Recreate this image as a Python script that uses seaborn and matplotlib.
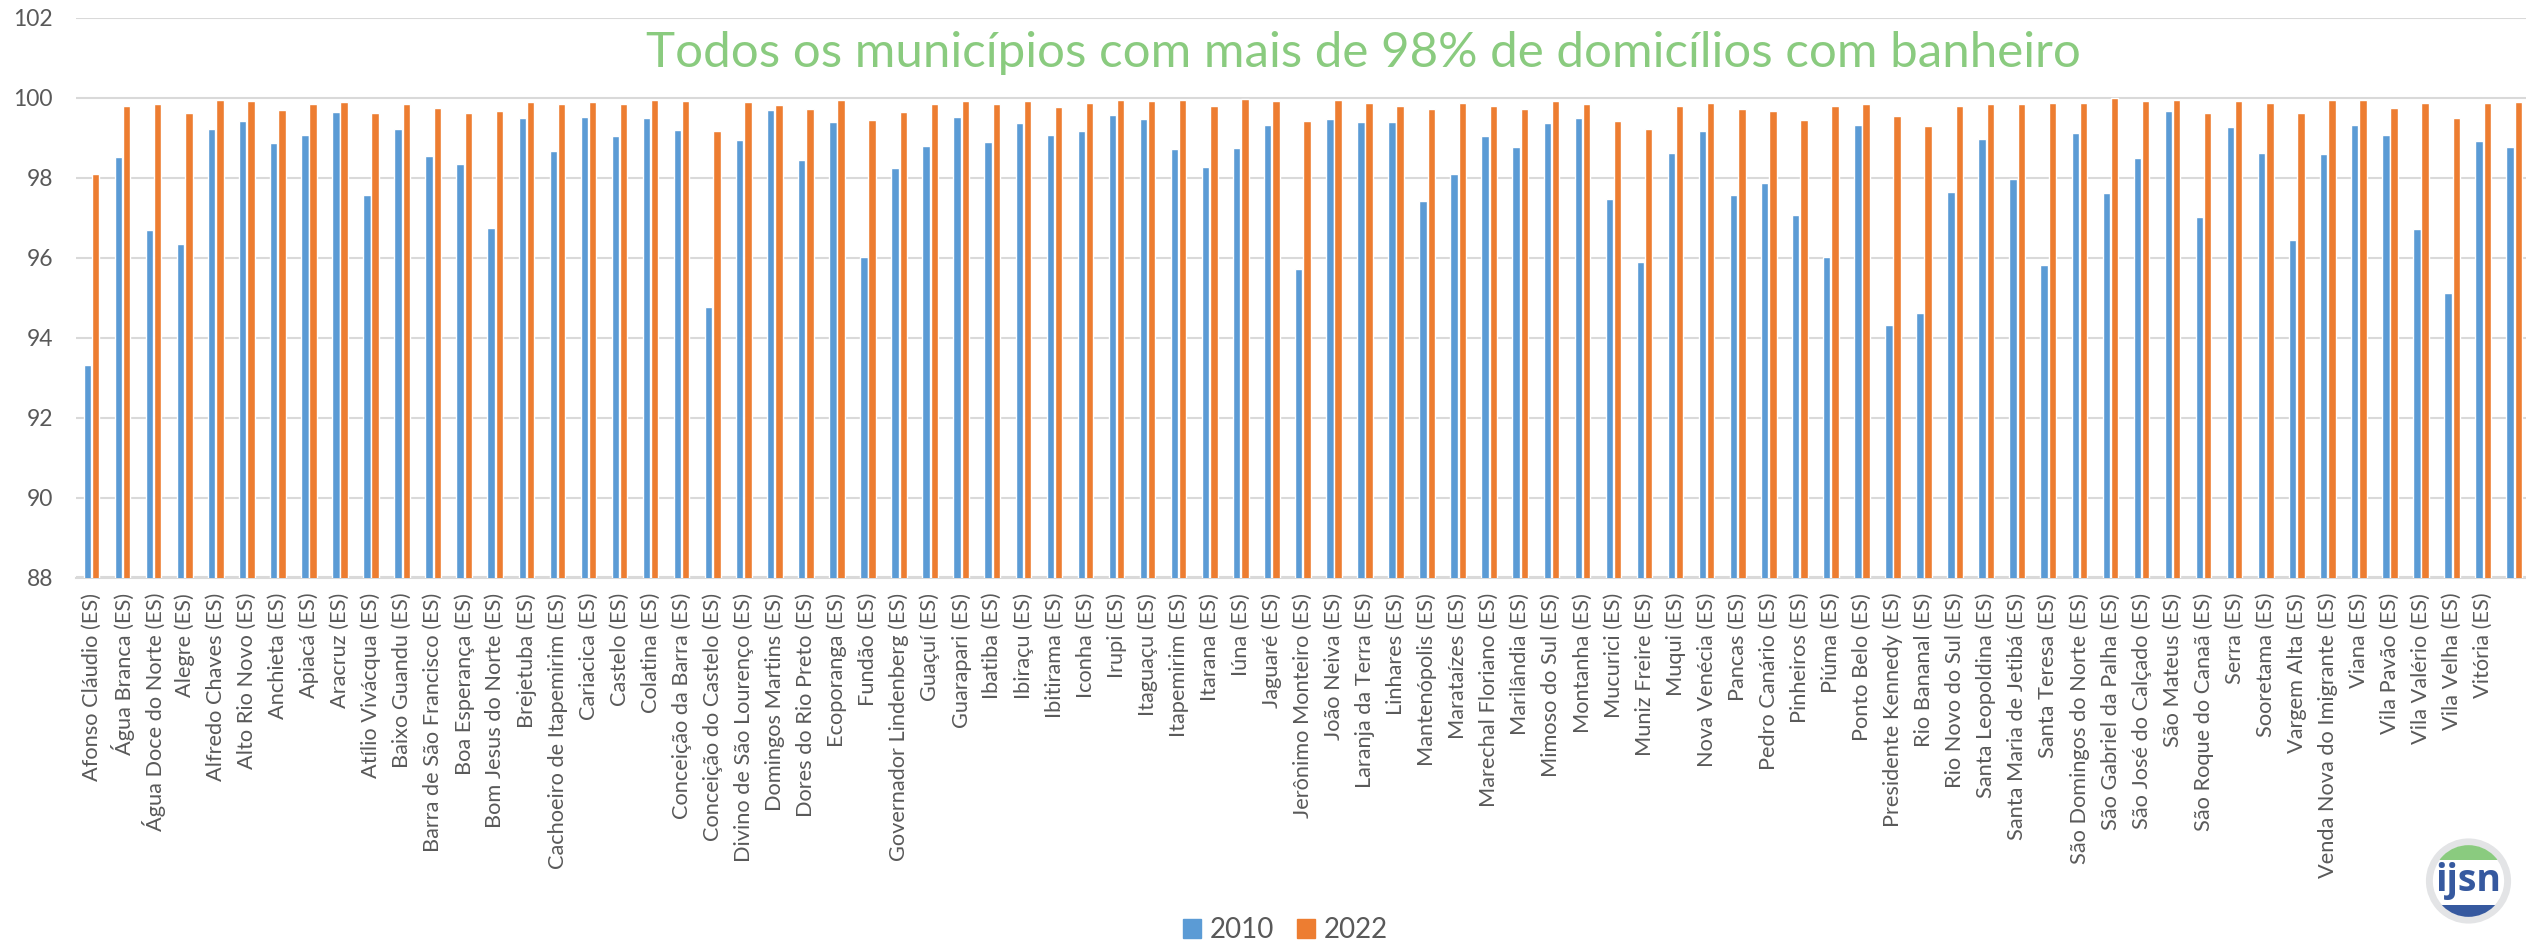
import numpy as np
import pandas as pd
import seaborn as sns
import matplotlib
matplotlib.use("Agg")
import matplotlib.pyplot as plt
from matplotlib.patches import Circle, Rectangle, Patch

names = ["Afonso Cláudio","Água Branca","Água Doce do Norte","Alegre","Alfredo Chaves","Alto Rio Novo","Anchieta","Apiacá","Aracruz","Atílio Vivácqua","Baixo Guandu","Barra de São Francisco","Boa Esperança","Bom Jesus do Norte","Brejetuba","Cachoeiro de Itapemirim","Cariacica","Castelo","Colatina","Conceição da Barra","Conceição do Castelo","Divino de São Lourenço","Domingos Martins","Dores do Rio Preto","Ecoporanga","Fundão","Governador Lindenberg","Guaçuí","Guarapari","Ibatiba","Ibiraçu","Ibitirama","Iconha","Irupi","Itaguaçu","Itapemirim","Itarana","Iúna","Jaguaré","Jerônimo Monteiro","João Neiva","Laranja da Terra","Linhares","Mantenópolis","Marataízes","Marechal Floriano","Marilândia","Mimoso do Sul","Montanha","Mucurici","Muniz Freire","Muqui","Nova Venécia","Pancas","Pedro Canário","Pinheiros","Piúma","Ponto Belo","Presidente Kennedy","Rio Bananal","Rio Novo do Sul","Santa Leopoldina","Santa Maria de Jetibá","Santa Teresa","São Domingos do Norte","São Gabriel da Palha","São José do Calçado","São Mateus","São Roque do Canaã","Serra","Sooretama","Vargem Alta","Venda Nova do Imigrante","Viana","Vila Pavão","Vila Valério","Vila Velha","Vitória"]
labels = [n + " (ES)" for n in names] + [" "]

v2010 = [93.31,98.51,96.69,96.34,99.23,99.43,98.86,99.06,99.66,97.56,99.23,98.54,98.34,96.74,99.51,98.67,99.52,99.04,99.51,99.19,94.78,98.94,99.70,98.44,99.40,
         96.03,98.24,98.79,99.52,98.90,99.37,99.06,99.17,99.57,99.47,98.72,98.27,98.74,99.32,95.71,99.47,99.39,99.40,97.43,98.10,99.05,98.76,99.37,99.50,97.47,95.90,98.62,
         99.16,97.58,97.88,97.07,96.01,99.32,94.31,94.62,97.65,98.96,97.97,95.81,99.12,97.62,98.50,99.67,97.01,99.27,98.62,96.45,98.59,99.32,99.07,96.73,95.12,98.93,98.76]
v2022 = [98.09,99.81,99.84,99.62,99.95,99.92,99.71,99.85,99.91,99.62,99.86,99.74,99.62,99.67,99.91,99.86,99.89,99.85,99.96,99.92,99.18,99.89,99.83,99.72,99.95,
         99.46,99.64,99.86,99.92,99.85,99.92,99.78,99.87,99.95,99.92,99.95,99.79,99.98,99.92,99.43,99.94,99.87,99.80,99.72,99.87,99.79,99.72,99.92,99.85,99.42,99.22,99.81,
         99.88,99.72,99.67,99.44,99.80,99.86,99.55,99.31,99.80,99.85,99.84,99.87,99.88,99.99,99.92,99.95,99.63,99.92,99.87,99.62,99.96,99.95,99.75,99.87,99.50,99.88,99.89]
years = ["2010", "2022"]
colors = ["#5B9BD5", "#ED7D31"]
title = "Todos os municípios com mais de 98% de domicílios com banheiro"
yticks = [88, 90, 92, 94, 96, 98, 100, 102]

df = pd.DataFrame({"municipio": labels * 2,
                   "valor": v2010 + v2022,
                   "ano": [years[0]] * len(labels) + [years[1]] * len(labels)})

W, H = 2526, 941
sns.set_theme(style="white")
plt.rcParams["font.family"] = ["Lato", "DejaVu Sans"]
fig = plt.figure(figsize=(W / 100, H / 100), dpi=100, facecolor="white")
L, R, T, B = 76, 2526, 18, 577.5
ax = fig.add_axes([L / W, 1 - B / H, (R - L) / W, (B - T) / H])
sns.barplot(data=df, x="municipio", y="valor", hue="ano", order=labels, hue_order=years,
            palette=colors, width=0.53, gap=0.1, dodge=True, legend=False,
            errorbar=None, ax=ax, zorder=3, saturation=1)
ax.set_xlim(-0.5, -0.5 + (R - L) / 31.06)
ax.set_ylim(88, 102)
ax.set_yticks(yticks)
ax.set_xlabel("")
ax.set_ylabel("")
ax.yaxis.grid(True, color="#D9D9D9", lw=1.5, zorder=0)
ax.set_axisbelow(True)
for s in ["top", "right", "left"]:
    ax.spines[s].set_visible(False)
ax.spines["bottom"].set_color("#D9D9D9")
ax.spines["bottom"].set_linewidth(1.5)
ax.tick_params(axis="both", length=0, colors="#595959")
ax.tick_params(axis="y", labelsize=16.5, pad=16.5)
ax.set_xticks(range(len(labels)))
ax.set_xticklabels(labels, rotation=90, fontsize=15.7, color="#595959", ha="center", va="top")
ax.tick_params(axis="x", pad=11)

fig.text(1363.5 / W, 1 - 67 / H, title, color="#8ACB7F", fontsize=35.5, ha="center", va="baseline")

handles = [Patch(color=c, label=y) for c, y in zip(colors, years)]
fig.legend(handles=handles, loc="center", bbox_to_anchor=(1285.5 / W, 1 - 930 / H), ncol=2, frameon=False,
           fontsize=20, labelcolor="#595959", handlelength=0.65, handleheight=0.65, handletextpad=0.3,
           columnspacing=0.85, borderpad=0, borderaxespad=0)

# logo
CX, CY, S = 2468.5, 881, 46
la = fig.add_axes([(CX - S) / W, 1 - (CY + S) / H, 2 * S / W, 2 * S / H])
la.set_xlim(-1, 1); la.set_ylim(-1, 1); la.set_aspect("equal"); la.axis("off")
la.add_patch(Circle((0, 0), 0.85, fc="white", ec="#E3E4E6", lw=5))
clip = Circle((0, 0), 0.78, transform=la.transData)
for y0, h, c in [(0.457, 0.5, "#8ACB7F"), (-1.0, 0.48, "#36599F")]:
    r = Rectangle((-1, y0), 2, h, fc=c, ec="none")
    la.add_patch(r)
    r.set_clip_path(clip)
la.text(0, 0.0, "ijsn", color="#36599F", fontsize=27, fontweight="bold", ha="center", va="center",
        family=["Open Sans", "DejaVu Sans"])

fig.savefig("out.png", dpi=100, facecolor="white")
